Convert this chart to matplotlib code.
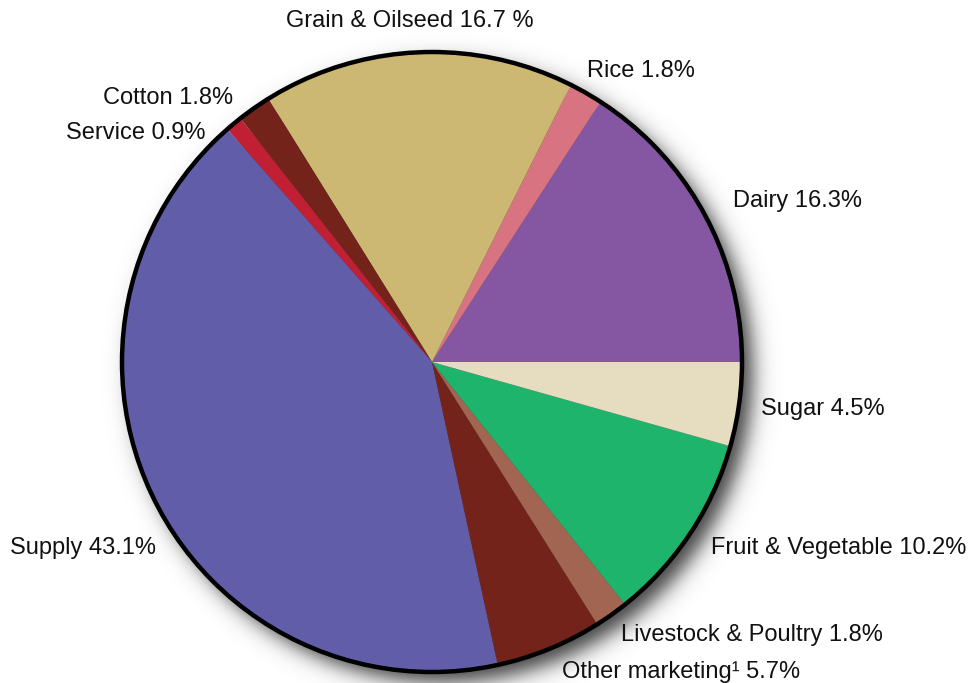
"""Pie chart of shares by sector
"""

import numpy as np
import matplotlib.pyplot as plt
from matplotlib.patches import Circle

# data, counter-clockwise from 3 o'clock
sectors = ['Dairy', 'Rice', 'Grain & Oilseed', 'Cotton', 'Service',
           'Supply', 'Other marketing', 'Livestock & Poultry',
           'Fruit & Vegetable', 'Sugar']
shares = [16.3, 1.8, 16.7, 1.8, 0.9, 43.1, 5.7, 1.8, 10.2, 4.5]
labels = ['Dairy 16.3%', 'Rice 1.8%', 'Grain & Oilseed 16.7 %', 'Cotton 1.8%',
          'Service 0.9%', 'Supply 43.1%', 'Other marketing\u00b9 5.7%',
          'Livestock & Poultry 1.8%', 'Fruit & Vegetable 10.2%', 'Sugar 4.5%']
colors = ['#8557a3', '#d87481', '#ccb773', '#74231a', '#c11f34',
          '#615da9', '#74231a', '#a26552', '#1eb46c', '#e6dcc0']

# label anchors (x, y in pie radii) and alignment
label_pos = [(0.97, 0.52, 'left'), (0.50, 0.94, 'left'), (-0.07, 1.10, 'center'),
             (-0.64, 0.85, 'right'), (-0.73, 0.74, 'right'), (-1.36, -0.60, 'left'),
             (0.42, -1.00, 'left'), (0.61, -0.88, 'left'), (0.90, -0.60, 'left'),
             (1.06, -0.15, 'left')]

plt.rcParams['font.family'] = ['Liberation Sans', 'DejaVu Sans']

fig = plt.figure(figsize=(9.74, 6.83), dpi=100)
ax = fig.add_axes([0, 0, 1, 1])

scale = 310.0  # pixels per radius
cx, cy = 432.0, 362.0
x0, x1 = -cx / scale, (974 - cx) / scale
y0, y1 = -(683 - cy) / scale, cy / scale

# soft drop shadow
xs = np.linspace(x0, x1, 974)
ys = np.linspace(y0, y1, 683)
X, Y = np.meshgrid(xs, ys)
d = np.hypot(X - 0.035, Y + 0.035)
alpha = 0.75 * 0.5 * (1 - np.tanh((d - 1.0) / 0.04))
shadow = np.zeros((683, 974, 4))
shadow[..., 3] = alpha
ax.imshow(shadow, extent=(x0, x1, y0, y1), origin='lower', zorder=0,
          interpolation='bilinear')

wedges, _ = ax.pie(shares, colors=colors, startangle=0, counterclock=True,
                   radius=1.0, center=(0, 0),
                   wedgeprops=dict(linewidth=0, antialiased=True))
for w in wedges:
    w.set_zorder(2)
ax.add_patch(Circle((0, 0), 1.0, fill=False, edgecolor='black', lw=3.2, zorder=3))

for lab, (lx, ly, ha) in zip(labels, label_pos):
    ax.text(lx, ly, lab, ha=ha, va='center', fontsize=17, color='#111111')

ax.set_xlim(x0, x1)
ax.set_ylim(y0, y1)
ax.set_aspect('auto')
ax.axis('off')

fig.savefig('out.png', dpi=100)
